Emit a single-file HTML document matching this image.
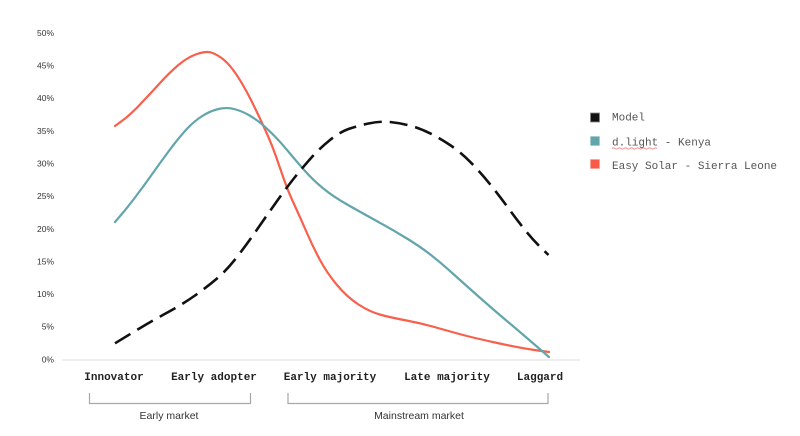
<!DOCTYPE html>
<html>
<head>
<meta charset="utf-8">
<style>
html,body{margin:0;padding:0;background:#fff;}
svg{display:block;}
.yt{font-family:"Liberation Sans",sans-serif;font-size:8.5px;fill:#333;text-anchor:end;}
.xt{font-family:"Liberation Mono",monospace;font-size:11px;font-weight:bold;fill:#222;text-anchor:middle;}
.lg{font-family:"Liberation Mono",monospace;font-size:11px;fill:#555;}
.br{font-family:"Liberation Sans",sans-serif;font-size:10.5px;fill:#333;text-anchor:middle;}
</style>
</head>
<body>
<svg width="800" height="436" viewBox="0 0 800 436" xmlns="http://www.w3.org/2000/svg">
<rect width="800" height="436" fill="#fff"/>
<!-- y tick labels -->
<text class="yt" x="54" y="36">50%</text>
<text class="yt" x="54" y="68.5">45%</text>
<text class="yt" x="54" y="101.2">40%</text>
<text class="yt" x="54" y="133.8">35%</text>
<text class="yt" x="54" y="166.5">30%</text>
<text class="yt" x="54" y="199.1">25%</text>
<text class="yt" x="54" y="231.8">20%</text>
<text class="yt" x="54" y="264.4">15%</text>
<text class="yt" x="54" y="297.1">10%</text>
<text class="yt" x="54" y="329.7">5%</text>
<text class="yt" x="54" y="362.3">0%</text>
<!-- baseline -->
<line x1="62" y1="360" x2="580" y2="360" stroke="#e8e8e8" stroke-width="1.5"/>

<!-- Easy Solar (red) -->
<path fill="none" stroke="#f9604c" stroke-width="2.2" stroke-linecap="round" stroke-linejoin="round"
d="M115,126 L122.5,120.5 Q130,115 140,104.5 Q150,94 160,83 Q170,72 179,64.5 Q188,57 197,54 Q206,51 211,52.5 Q216,54 221.5,58 Q227,62 232,68.5 Q237,75 242,83.5 Q247,92 251,100 Q255,108 259,116.5 Q263,125 267.5,135 Q272,145 276,156.5 Q280,168 284,179.5 Q288,191 294,204 Q300,217 306.5,232 Q313,247 320,260 Q327,273 337,285 Q347,297 358.5,304.5 Q370,312 381.5,315 Q393,318 406.5,320.5 Q420,323 432.5,326.5 Q445,330 457.5,333.5 Q470,337 495,342.5 Q520,348 534.5,350 L549,352"/>

<!-- d.light (teal) -->
<path fill="none" stroke="#62a5aa" stroke-width="2.2" stroke-linecap="round" stroke-linejoin="round"
d="M115,222 L121,215 Q127,208 135,197.5 Q143,187 151.5,175 Q160,163 168.5,151.5 Q177,140 185,131 Q193,122 201.5,116.5 Q210,111 218.5,109 Q227,107 235,109.25 Q243,111.5 250,115.75 Q257,120 262,124.25 Q267,128.5 273.5,135 Q280,141.5 288.5,151.75 Q297,162 305,171 Q313,180 323,188.25 Q333,196.5 348,205 Q363,213.5 378,221.75 Q393,230 406.5,238.25 Q420,246.5 430,254.25 Q440,262 455,275.5 Q470,289 482.5,300 Q495,311 507.5,321.5 Q520,332 534.5,344.5 L549,357"/>

<!-- Model (black dashed) -->
<path fill="none" stroke="#111" stroke-width="2.6" stroke-dasharray="18 8"
d="M115,343.3 L132.5,332.65 Q150,322 166.5,313 Q183,304 195,295.5 Q207,287 217,278.5 Q227,270 237,257 Q247,244 256,231 Q265,218 276,202.5 Q287,187 295,177 Q303,167 311.5,157.5 Q320,148 330,140 Q340,132 348.5,129 Q357,126 368.5,123.5 Q380,121 390,122 Q400,123 410,125.65 Q420,128.3 430,133.3 Q440,138.3 450,145 Q460,151.7 470,161.7 Q480,171.7 490,184.2 Q500,196.7 508.5,208.35 Q517,220 525,230 Q533,240 540.75,247.5 L548.5,255"/>

<!-- x labels -->
<text class="xt" x="114" y="380">Innovator</text>
<text class="xt" x="214" y="380">Early adopter</text>
<text class="xt" x="330" y="380">Early majority</text>
<text class="xt" x="447" y="380">Late majority</text>
<text class="xt" x="540" y="380">Laggard</text>

<!-- brackets -->
<path d="M89.5,393 V403.5 H250.5 V393" fill="none" stroke="#a8a8a8" stroke-width="1.2"/>
<path d="M288,393 V403.5 H548 V393" fill="none" stroke="#a8a8a8" stroke-width="1.2"/>
<text class="br" x="169" y="419">Early market</text>
<text class="br" x="419" y="419">Mainstream market</text>

<!-- legend -->
<rect x="590.5" y="113" width="9" height="9" fill="#111" stroke="#888" stroke-width="0.8"/>
<rect x="590.5" y="136.5" width="9" height="9" fill="#62a5aa" stroke="#9cc7ca" stroke-width="0.6"/>
<rect x="590.5" y="159.5" width="9" height="9" fill="#f95a48" stroke="#fb9a8e" stroke-width="0.6"/>
<text class="lg" x="612" y="120.5">Model</text>
<text class="lg" x="612" y="145.5">d.light - Kenya</text>
<path d="M612,148.5 q1.5,-1.2 3,0 t3,0 t3,0 t3,0 t3,0 t3,0 t3,0 t3,0 t3,0 t3,0 t3,0 t3,0 t3,0 t3,0 t3,0" fill="none" stroke="#f06a6a" stroke-width="0.8"/>
<text class="lg" x="612" y="169">Easy Solar - Sierra Leone</text>
</svg>
</body>
</html>
